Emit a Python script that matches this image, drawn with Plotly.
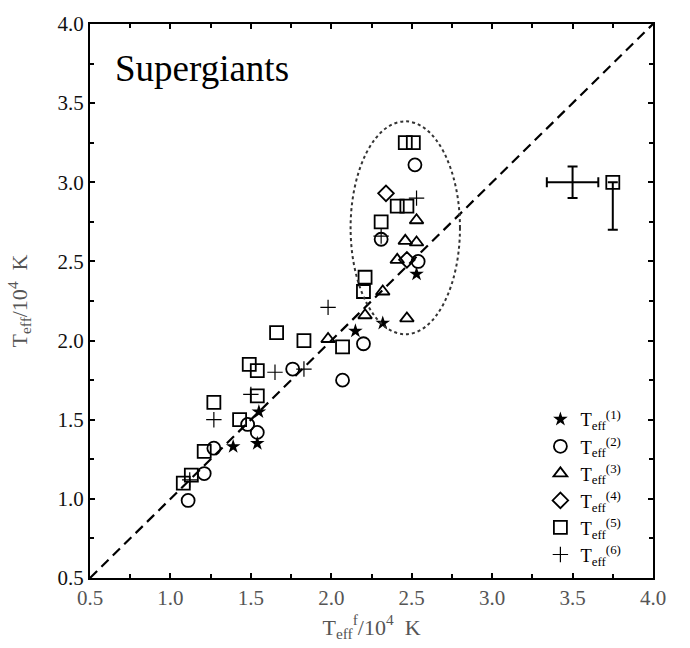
import plotly.graph_objects as go

# ---- data (units of 10^4 K) ----
star_x = [1.39, 1.54, 1.55, 2.15, 2.32, 2.53]
star_y = [1.33, 1.35, 1.55, 2.06, 2.11, 2.42]

circ_x = [1.11, 1.21, 1.27, 1.48, 1.54, 1.76, 2.07, 2.20, 2.31, 2.54, 2.52]
circ_y = [0.99, 1.16, 1.32, 1.47, 1.42, 1.82, 1.75, 1.98, 2.64, 2.50, 3.11]

tri_x = [1.98, 2.21, 2.32, 2.47, 2.41, 2.46, 2.53, 2.53]
tri_y = [2.01, 2.16, 2.31, 2.14, 2.51, 2.63, 2.62, 2.76]

dia_x = [2.34, 2.47]
dia_y = [2.93, 2.51]

sq_x = [1.08, 1.13, 1.21, 1.27, 1.43, 1.54, 1.49, 1.54, 1.66, 1.83, 2.07,
        2.21, 2.20, 2.31, 2.41, 2.47, 2.46, 2.51]
sq_y = [1.10, 1.15, 1.30, 1.61, 1.50, 1.65, 1.85, 1.81, 2.05, 2.00, 1.96,
        2.40, 2.31, 2.75, 2.85, 2.85, 3.25, 3.25]

plus_x = [1.12, 1.27, 1.50, 1.65, 1.83, 1.98, 2.31, 2.53]
plus_y = [1.12, 1.50, 1.66, 1.80, 1.82, 2.21, 2.66, 2.90]

# typical error bars
err_cross_x, err_cross_y = [3.5], [3.0]
err_cross_dx, err_cross_dy = [0.16], [0.10]
err_sq_x, err_sq_y = [3.75], [3.0]
err_sq_dy_minus = [0.30]

# dotted ellipse (hot supergiants)
ell_x = [2.12, 2.80]
ell_y = [2.04, 3.385]

diag = [0.5, 4.0]

legend_names = ["T<sub>eff</sub><sup>(%d)</sup>" % i for i in range(1, 7)]

serif = "Liberation Serif, DejaVu Serif, serif"
fig = go.Figure()

fig.add_trace(go.Scatter(x=diag, y=diag, mode="lines", showlegend=False,
                         line=dict(color="black", width=2.2, dash="10px,6px")))

def add(xs, ys, name, symbol, size, lw):
    fig.add_trace(go.Scatter(
        x=xs, y=ys, mode="markers", name=name,
        marker=dict(symbol=symbol, size=size, color="black",
                    line=dict(color="black", width=lw))))

add(star_x, star_y, legend_names[0], "star", 11, 0)
add(circ_x, circ_y, legend_names[1], "circle-open", 13, 1.8)
add(tri_x, tri_y, legend_names[2], "triangle-up-open", 12, 1.8)
add(dia_x, dia_y, legend_names[3], "diamond-open", 12, 1.8)
add(sq_x, sq_y, legend_names[4], "square-open", 13, 1.8)
add(plus_x, plus_y, legend_names[5], "cross-thin-open", 11, 1.2)

fig.add_trace(go.Scatter(
    x=err_cross_x, y=err_cross_y, mode="markers", showlegend=False,
    marker=dict(size=1, color="black"),
    error_x=dict(type="data", array=err_cross_dx, color="black", thickness=2, width=5),
    error_y=dict(type="data", array=err_cross_dy, color="black", thickness=2, width=5)))
fig.add_trace(go.Scatter(
    x=err_sq_x, y=err_sq_y, mode="markers", showlegend=False,
    marker=dict(symbol="square-open", size=13, color="black", line=dict(width=1.8)),
    error_y=dict(type="data", symmetric=False, array=[0], arrayminus=err_sq_dy_minus,
                 color="black", thickness=2, width=5)))

fig.add_shape(type="circle", xref="x", yref="y",
              x0=ell_x[0], x1=ell_x[1], y0=ell_y[0], y1=ell_y[1],
              line=dict(color="#333", width=2, dash="dot"))

fig.add_annotation(x=0.64, y=3.72, xref="x", yref="y", text="Supergiants",
                   showarrow=False, xanchor="left", yanchor="middle",
                   font=dict(family=serif, size=37, color="black"))

axis_common = dict(range=[0.5, 4.0], dtick=0.5, tick0=0.5, ticks="inside",
                   ticklen=5, tickwidth=1.5, tickcolor="black",
                   showline=True, linecolor="black", linewidth=2, mirror="ticks",
                   showgrid=False, zeroline=False, tickformat=".1f",
                   minor=dict(dtick=0.25, ticks="inside", ticklen=4, tickcolor="black"))

fig.update_xaxes(**axis_common,
                 tickfont=dict(family=serif, size=21, color="#555"),
                 title=dict(text="T<sub>eff</sub><sup>f</sup>/10<sup>4</sup>  K",
                            font=dict(family=serif, size=22, color="#555"), standoff=10))
fig.update_yaxes(**axis_common,
                 tickfont=dict(family=serif, size=21, color="#111"),
                 title=dict(text="T<sub>eff</sub>/10<sup>4</sup>  K",
                            font=dict(family=serif, size=22, color="#555"), standoff=24))

fig.update_layout(
    width=690, height=648,
    margin=dict(l=90, r=37, t=15, b=69),
    plot_bgcolor="white", paper_bgcolor="white",
    legend=dict(x=0.80, y=0.32, xanchor="left", yanchor="top",
                bgcolor="rgba(0,0,0,0)", tracegroupgap=0,
                font=dict(family=serif, size=18.5, color="black")),
)

fig.write_html("out.html")
